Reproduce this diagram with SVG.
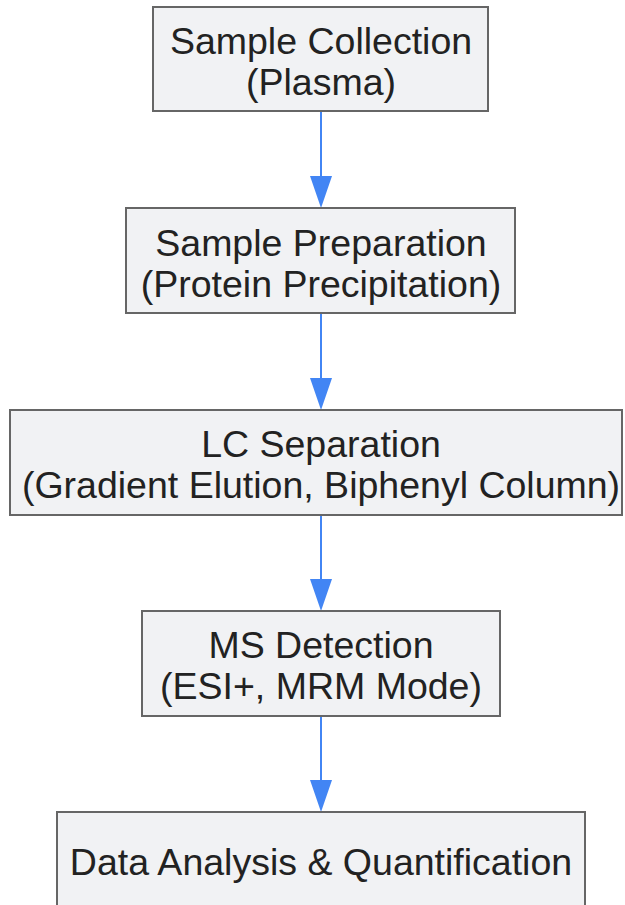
<svg xmlns="http://www.w3.org/2000/svg" width="625" height="905" viewBox="0 0 625 905">
<defs>
<style>
.box{fill:#f1f2f4;stroke:#666666;stroke-width:2}
.t{font-family:"Liberation Sans",Arial,sans-serif;font-size:37.5px;fill:#222222;text-anchor:middle;dominant-baseline:central}
.edge{stroke:#4285f4;stroke-width:2;fill:none}
.ah{fill:#4285f4}
</style>
</defs>
<rect width="625" height="905" fill="#ffffff"/>
<g id="edges">
<path class="edge" d="M321,111 V176"/>
<path class="ah" d="M310,176 L332,176 L321,208 Z"/>
<path class="edge" d="M321,313 V378"/>
<path class="ah" d="M310,378 L332,378 L321,410 Z"/>
<path class="edge" d="M321,515 V579"/>
<path class="ah" d="M310,579 L332,579 L321,611 Z"/>
<path class="edge" d="M321,716 V780"/>
<path class="ah" d="M310,780 L332,780 L321,812 Z"/>
</g>
<g id="n1">
<rect class="box" x="153" y="7" width="335" height="104"/>
<text class="t" x="321" y="41">Sample Collection</text>
<text class="t" x="321" y="82">(Plasma)</text>
</g>
<g id="n2">
<rect class="box" x="126" y="208" width="389" height="105"/>
<text class="t" x="321" y="243">Sample Preparation</text>
<text class="t" x="321" y="284">(Protein Precipitation)</text>
</g>
<g id="n3">
<rect class="box" x="10" y="410" width="612" height="105"/>
<text class="t" x="321" y="444">LC Separation</text>
<text class="t" x="321" y="485">(Gradient Elution, Biphenyl Column)</text>
</g>
<g id="n4">
<rect class="box" x="142" y="611" width="358" height="105"/>
<text class="t" x="321" y="645">MS Detection</text>
<text class="t" x="321" y="686">(ESI+, MRM Mode)</text>
</g>
<g id="n5">
<rect class="box" x="57" y="812" width="528" height="110"/>
<text class="t" x="321" y="862">Data Analysis &amp; Quantification</text>
</g>
</svg>
